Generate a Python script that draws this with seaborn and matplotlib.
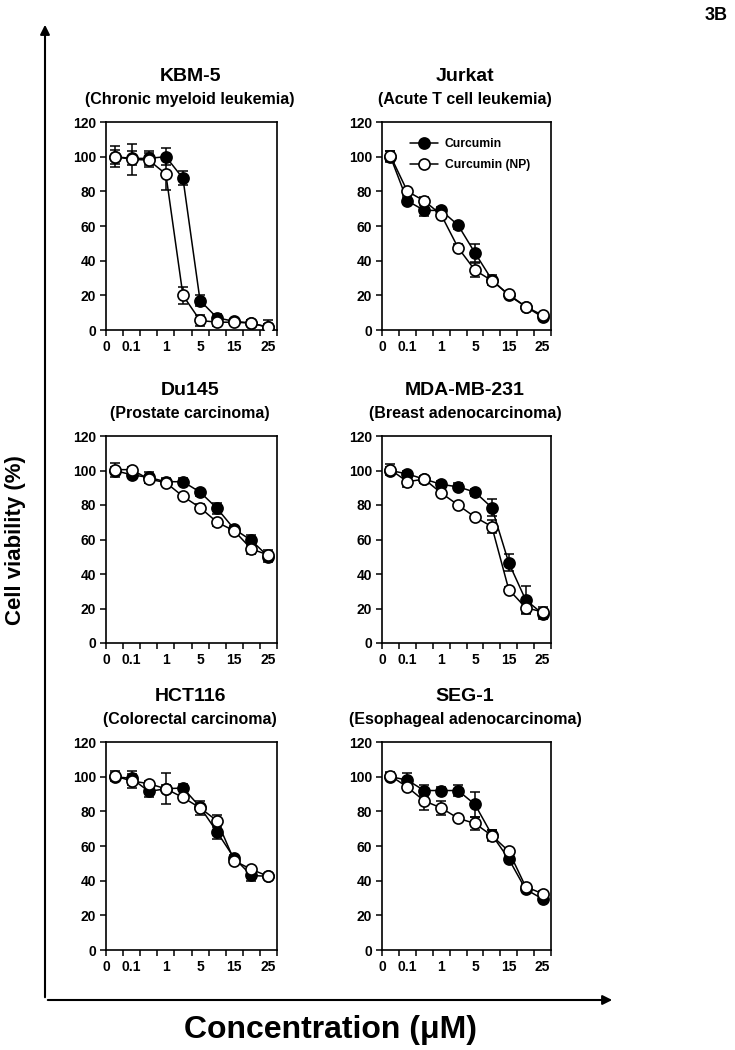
import matplotlib
matplotlib.use("Agg")
import matplotlib.pyplot as plt
import numpy as np
import pandas as pd
import seaborn as sns

sns.set_theme(style="ticks")
plt.rcParams['font.family'] = ['Liberation Sans', 'DejaVu Sans']
plt.rcParams['font.weight'] = 'bold'
plt.rcParams['text.color'] = 'black'

# concentration categories (uM) and the ones that get a tick label
conc = ["0", "0.1", "0.5", "1", "2.5", "5", "10", "15", "20", "25"]
conc_labels = ["0", "0.1", "1", "5", "15", "25"]

cells = ["KBM-5", "Jurkat", "Du145", "MDA-MB-231", "HCT116", "SEG-1"]
diseases = ["(Chronic myeloid leukemia)", "(Acute T cell leukemia)",
            "(Prostate carcinoma)", "(Breast adenocarcinoma)",
            "(Colorectal carcinoma)", "(Esophageal adenocarcinoma)"]

# Curcumin (filled) / Curcumin (NP) (open): mean and error
kbm5_cur = [100, 99, 99, 100, 87.5, 17, 7, 5, 4, 1.5]
kbm5_cur_err = [4, 4, 4, 5, 4, 3, 2, 1.5, 1.5, 2]
kbm5_np = [100, 98.5, 98, 90, 20, 5.5, 4.5, 4.5, 4, 1.5]
kbm5_np_err = [6, 9, 4, 9, 5, 3, 2, 1.5, 1.5, 4]

jurkat_cur = [100, 74.5, 69, 69, 60.5, 44.5, 29, 20, 13.5, 7.5]
jurkat_cur_err = [3, 2, 3, 2, 2, 5, 3, 1.5, 1.5, 1.5]
jurkat_np = [100.5, 80, 74.5, 66.5, 47.5, 34.5, 28.5, 20.5, 13.5, 8.5]
jurkat_np_err = [3, 2, 2, 2, 2, 4, 2, 1.5, 1.5, 1.5]

du145_cur = [100, 97.5, 96, 93.5, 93.5, 87.5, 78, 66, 59.5, 50]
du145_cur_err = [2, 2, 3, 2, 2, 2, 3, 2, 3, 3]
du145_np = [100.5, 100.5, 95, 93, 85, 78.5, 70, 65, 54.5, 51]
du145_np_err = [4, 1.5, 2, 2, 1.5, 2, 2, 1.5, 3, 3]

mda_cur = [100, 98, 95, 92, 90.5, 87.5, 78.5, 46.5, 25, 17]
mda_cur_err = [2, 2, 2, 2, 2, 2, 5, 5, 8, 3]
mda_np = [100.5, 93.5, 95, 87, 80, 73, 67.5, 31, 20.5, 18]
mda_np_err = [3, 3, 1.5, 1.5, 1.5, 1.5, 4, 1.5, 3, 3]

hct_cur = [100, 99, 91.5, 93, 93.5, 82.5, 68, 53, 43, 42.5]
hct_cur_err = [2, 4, 3, 2, 2, 2, 4, 2, 3, 1.5]
hct_np = [100.5, 97.5, 96, 93, 88, 82, 74.5, 51.5, 46.5, 42.5]
hct_np_err = [3, 4, 1.5, 9, 1.5, 4, 3.5, 1.5, 1.5, 1.5]

seg_cur = [100, 98, 92, 92, 92, 84, 66.5, 52.5, 35, 29.5]
seg_cur_err = [2, 4, 3, 2, 3, 7, 3, 2, 1.5, 1.5]
seg_np = [100.5, 94, 86, 82, 76, 73, 66, 57, 36.5, 32.5]
seg_np_err = [2, 1.5, 5, 4, 1.5, 4, 3, 1.5, 1.5, 1.5]

panels = [
    (kbm5_cur, kbm5_cur_err, kbm5_np, kbm5_np_err),
    (jurkat_cur, jurkat_cur_err, jurkat_np, jurkat_np_err),
    (du145_cur, du145_cur_err, du145_np, du145_np_err),
    (mda_cur, mda_cur_err, mda_np, mda_np_err),
    (hct_cur, hct_cur_err, hct_np, hct_np_err),
    (seg_cur, seg_cur_err, seg_np, seg_np_err),
]

W, H = 735, 1050
fig = plt.figure(figsize=(W / 100, H / 100), dpi=100)

# axes boxes in pixels: left, top, right, bottom
boxes = [(106, 122, 277, 330), (382, 122, 551, 330),
         (106, 436, 277, 643), (382, 436, 551, 643),
         (106, 742, 277, 950), (382, 742, 551, 950)]

pos = np.arange(len(conc)) + 0.5
label_pos = [0.05, 1.5, 3.5, 5.5, 7.5, 9.5]

for i, (cur, cur_err, np_, np_err) in enumerate(panels):
    l, t, r, b = boxes[i]
    ax = fig.add_axes([l / W, 1 - b / H, (r - l) / W, (b - t) / H])
    df = pd.DataFrame({'pos': pos, 'Curcumin': cur, 'Curcumin (NP)': np_})

    ax.errorbar(pos, cur, yerr=cur_err, fmt='none', ecolor='black',
                elinewidth=1.1, capsize=3.5, capthick=1.1, zorder=2)
    ax.errorbar(pos, np_, yerr=np_err, fmt='none', ecolor='black',
                elinewidth=1.1, capsize=3.5, capthick=1.1, zorder=2)
    sns.lineplot(data=df, x='pos', y='Curcumin', ax=ax, color='black',
                 marker='o', markersize=8, markerfacecolor='black',
                 markeredgecolor='black', markeredgewidth=1.2, linewidth=1.1,
                 label='Curcumin', zorder=3)
    sns.lineplot(data=df, x='pos', y='Curcumin (NP)', ax=ax, color='black',
                 marker='o', markersize=8, markerfacecolor='white',
                 markeredgecolor='black', markeredgewidth=1.2, linewidth=1.1,
                 label='Curcumin (NP)', zorder=4)

    ax.set_xlim(0, 10)
    ax.set_ylim(0, 120)
    ax.set_yticks(np.arange(0, 121, 20))
    ax.set_xticks(np.arange(0, 11, 1))
    ax.set_xticklabels([])
    ax.set_xticks(label_pos, minor=True)
    ax.set_xticklabels(conc_labels, minor=True)
    ax.tick_params(axis='x', which='major', direction='out', length=4, width=1.1, color='black')
    ax.tick_params(axis='x', which='minor', length=0, pad=7, labelsize=10)
    ax.tick_params(axis='y', direction='out', length=4, width=1.1, pad=3, labelsize=10, color='black')
    for lab in ax.get_xticklabels(minor=True) + ax.get_yticklabels():
        lab.set_fontweight('bold')
        lab.set_color('black')
    for s in ax.spines.values():
        s.set_visible(True)
        s.set_color('black')
        s.set_linewidth(1.2)
    ax.set_xlabel('')
    ax.set_ylabel('')
    ax.grid(False)

    if i == 1:
        leg = ax.legend(loc='upper left', bbox_to_anchor=(0.1, 0.975), frameon=False,
                        handlelength=2.3, handletextpad=0.6, labelspacing=0.75,
                        prop={'weight': 'bold', 'size': 8.7})
        for txt in leg.get_texts():
            txt.set_color('black')
    else:
        ax.get_legend().remove()

    ax.annotate(cells[i], xy=(0.5, 1), xycoords='axes fraction',
                xytext=(-1, 33), textcoords='offset points', color='black',
                ha='center', va='center', fontsize=14, fontweight='bold')
    ax.annotate(diseases[i], xy=(0.5, 1), xycoords='axes fraction',
                xytext=(-1, 16), textcoords='offset points', color='black',
                ha='center', va='center', fontsize=11.5, fontweight='bold')

# big axis arrows
ox, oy = 45 / W, 1 - 1000 / H
fig.add_artist(matplotlib.patches.FancyArrowPatch(
    (ox, oy), (ox, 1 - 22 / H), transform=fig.transFigure,
    arrowstyle='-|>', mutation_scale=14, color='black', linewidth=1.5))
fig.add_artist(matplotlib.patches.FancyArrowPatch(
    (ox, oy), (615 / W, oy), transform=fig.transFigure,
    arrowstyle='-|>', mutation_scale=14, color='black', linewidth=1.5))

fig.text(16 / W, 1 - 540 / H, 'Cell viability (%)', rotation=90, color='black',
         ha='center', va='center', fontsize=16, fontweight='bold')
fig.text(330 / W, 1 - 1030 / H, 'Concentration (\u03bcM)', color='black',
         ha='center', va='center', fontsize=23, fontweight='bold')
fig.text(716 / W, 1 - 15 / H, '3B', ha='center', va='center', color='black',
         fontsize=13, fontweight='bold')

fig.savefig('out.png', dpi=100)
